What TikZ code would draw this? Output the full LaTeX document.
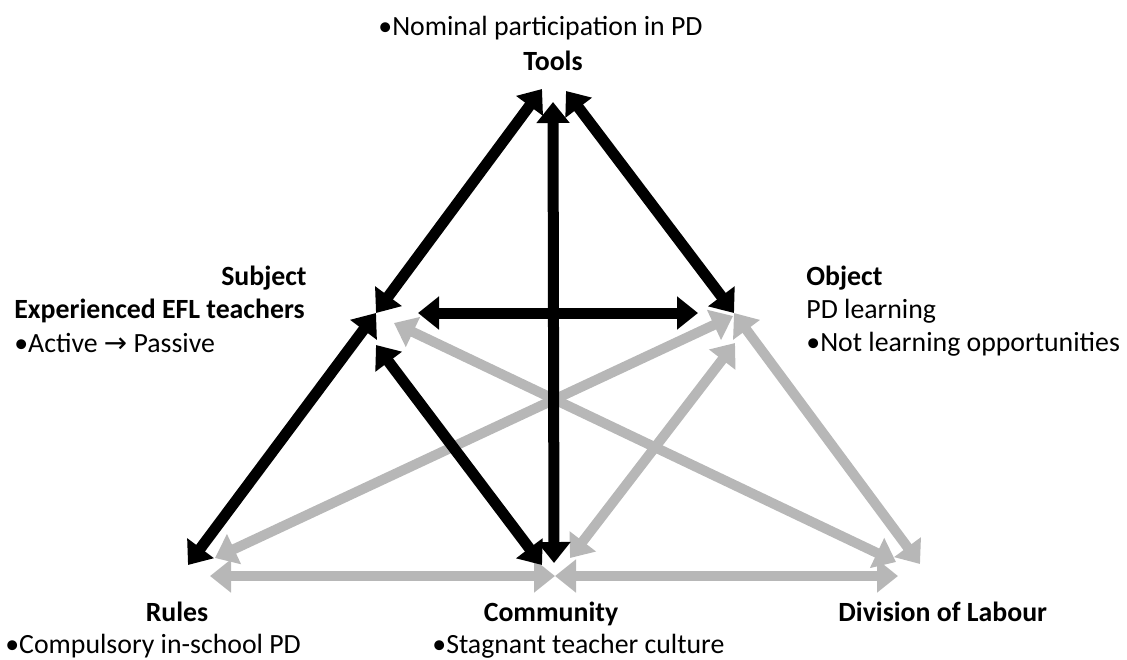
\documentclass[tikz,border=0pt]{standalone}
\usepackage{fontspec}
\setmainfont{Carlito}
\newfontfamily\arrowfont{DejaVu Sans}
\usetikzlibrary{arrows.meta}
\definecolor{linkgray}{RGB}{183,183,183}

\begin{document}
\begin{tikzpicture}[x=0.5pt, y=-0.5pt, font=\fontsize{13.9}{16}\selectfont,
    label/.style={inner sep=0pt},
    title/.style={inner sep=0pt, font=\fontsize{13.9}{16}\selectfont\bfseries},
    blacklink/.style={line width=5.5pt, {Triangle[length=10.5pt,width=16pt]}-{Triangle[length=10.5pt,width=16pt]}},
    graylink/.style={linkgray, line width=5pt, {Triangle[length=10.5pt,width=16pt]}-{Triangle[length=10.5pt,width=16pt]}}]
\useasboundingbox (0,0) rectangle (1127,659);
\node[label, anchor=base west] (toolsnote) at (378,35) {•Nominal participation in PD};
\node[title, anchor=base] (tools) at (553,70) {Tools};
\node[title, anchor=base east] (subject) at (307,285) {Subject};
\node[title, anchor=base west] (subjectname) at (14,318) {Experienced EFL teachers};
\node[label, anchor=base west] (subjectnote) at (14,352) {•Active {\arrowfont →} Passive};
\node[title, anchor=base west] (object) at (806,285) {Object};
\node[label, anchor=base west] (objectname) at (806,318) {PD learning};
\node[label, anchor=base west] (objectnote) at (806,351) {•Not learning opportunities};
\node[title, anchor=base] (rules) at (177,621) {Rules};
\node[label, anchor=base west] (rulesnote) at (5,653) {•Compulsory in-school PD};
\node[title, anchor=base] (community) at (551,621) {Community};
\node[label, anchor=base west] (communitynote) at (432,653) {•Stagnant teacher culture};
\node[title, anchor=base west] (division) at (838,621) {Division of Labour};

\coordinate (toolsA) at (542,89);
\coordinate (toolsB) at (553,102);
\coordinate (toolsC) at (566,91);
\coordinate (subjA) at (376,313);
\coordinate (subjB) at (418,313);
\coordinate (subjC) at (394,323);
\coordinate (subjD) at (376,345);
\coordinate (objA) at (734,313);
\coordinate (objB) at (698,313);
\coordinate (objC) at (735,343);
\coordinate (objD) at (733,316);
\coordinate (rulesA) at (188,565);
\coordinate (rulesB) at (215,558);
\coordinate (rulesC) at (210,576);
\coordinate (commA) at (542,565);
\coordinate (commB) at (554,563);
\coordinate (commC) at (555,576);
\coordinate (commD) at (570,558);
\coordinate (divA) at (898,576);
\coordinate (divB) at (896,562);
\coordinate (divC) at (920,564);

\draw[graylink] (rulesC) -- (commC);
\draw[graylink] (commC) -- (divA);
\draw[graylink] (rulesB) -- (objD);
\draw[graylink] (commD) -- (objC);
\draw[graylink] (subjC) -- (divB);
\draw[graylink] (objA) -- (divC);

\draw[blacklink] (toolsA) -- (subjA);
\draw[blacklink] (toolsB) -- (commB);
\draw[blacklink] (toolsC) -- (objA);
\draw[blacklink] (subjB) -- (objB);
\draw[blacklink] (subjA) -- (rulesA);
\draw[blacklink] (subjD) -- (commA);
\end{tikzpicture}
\end{document}
